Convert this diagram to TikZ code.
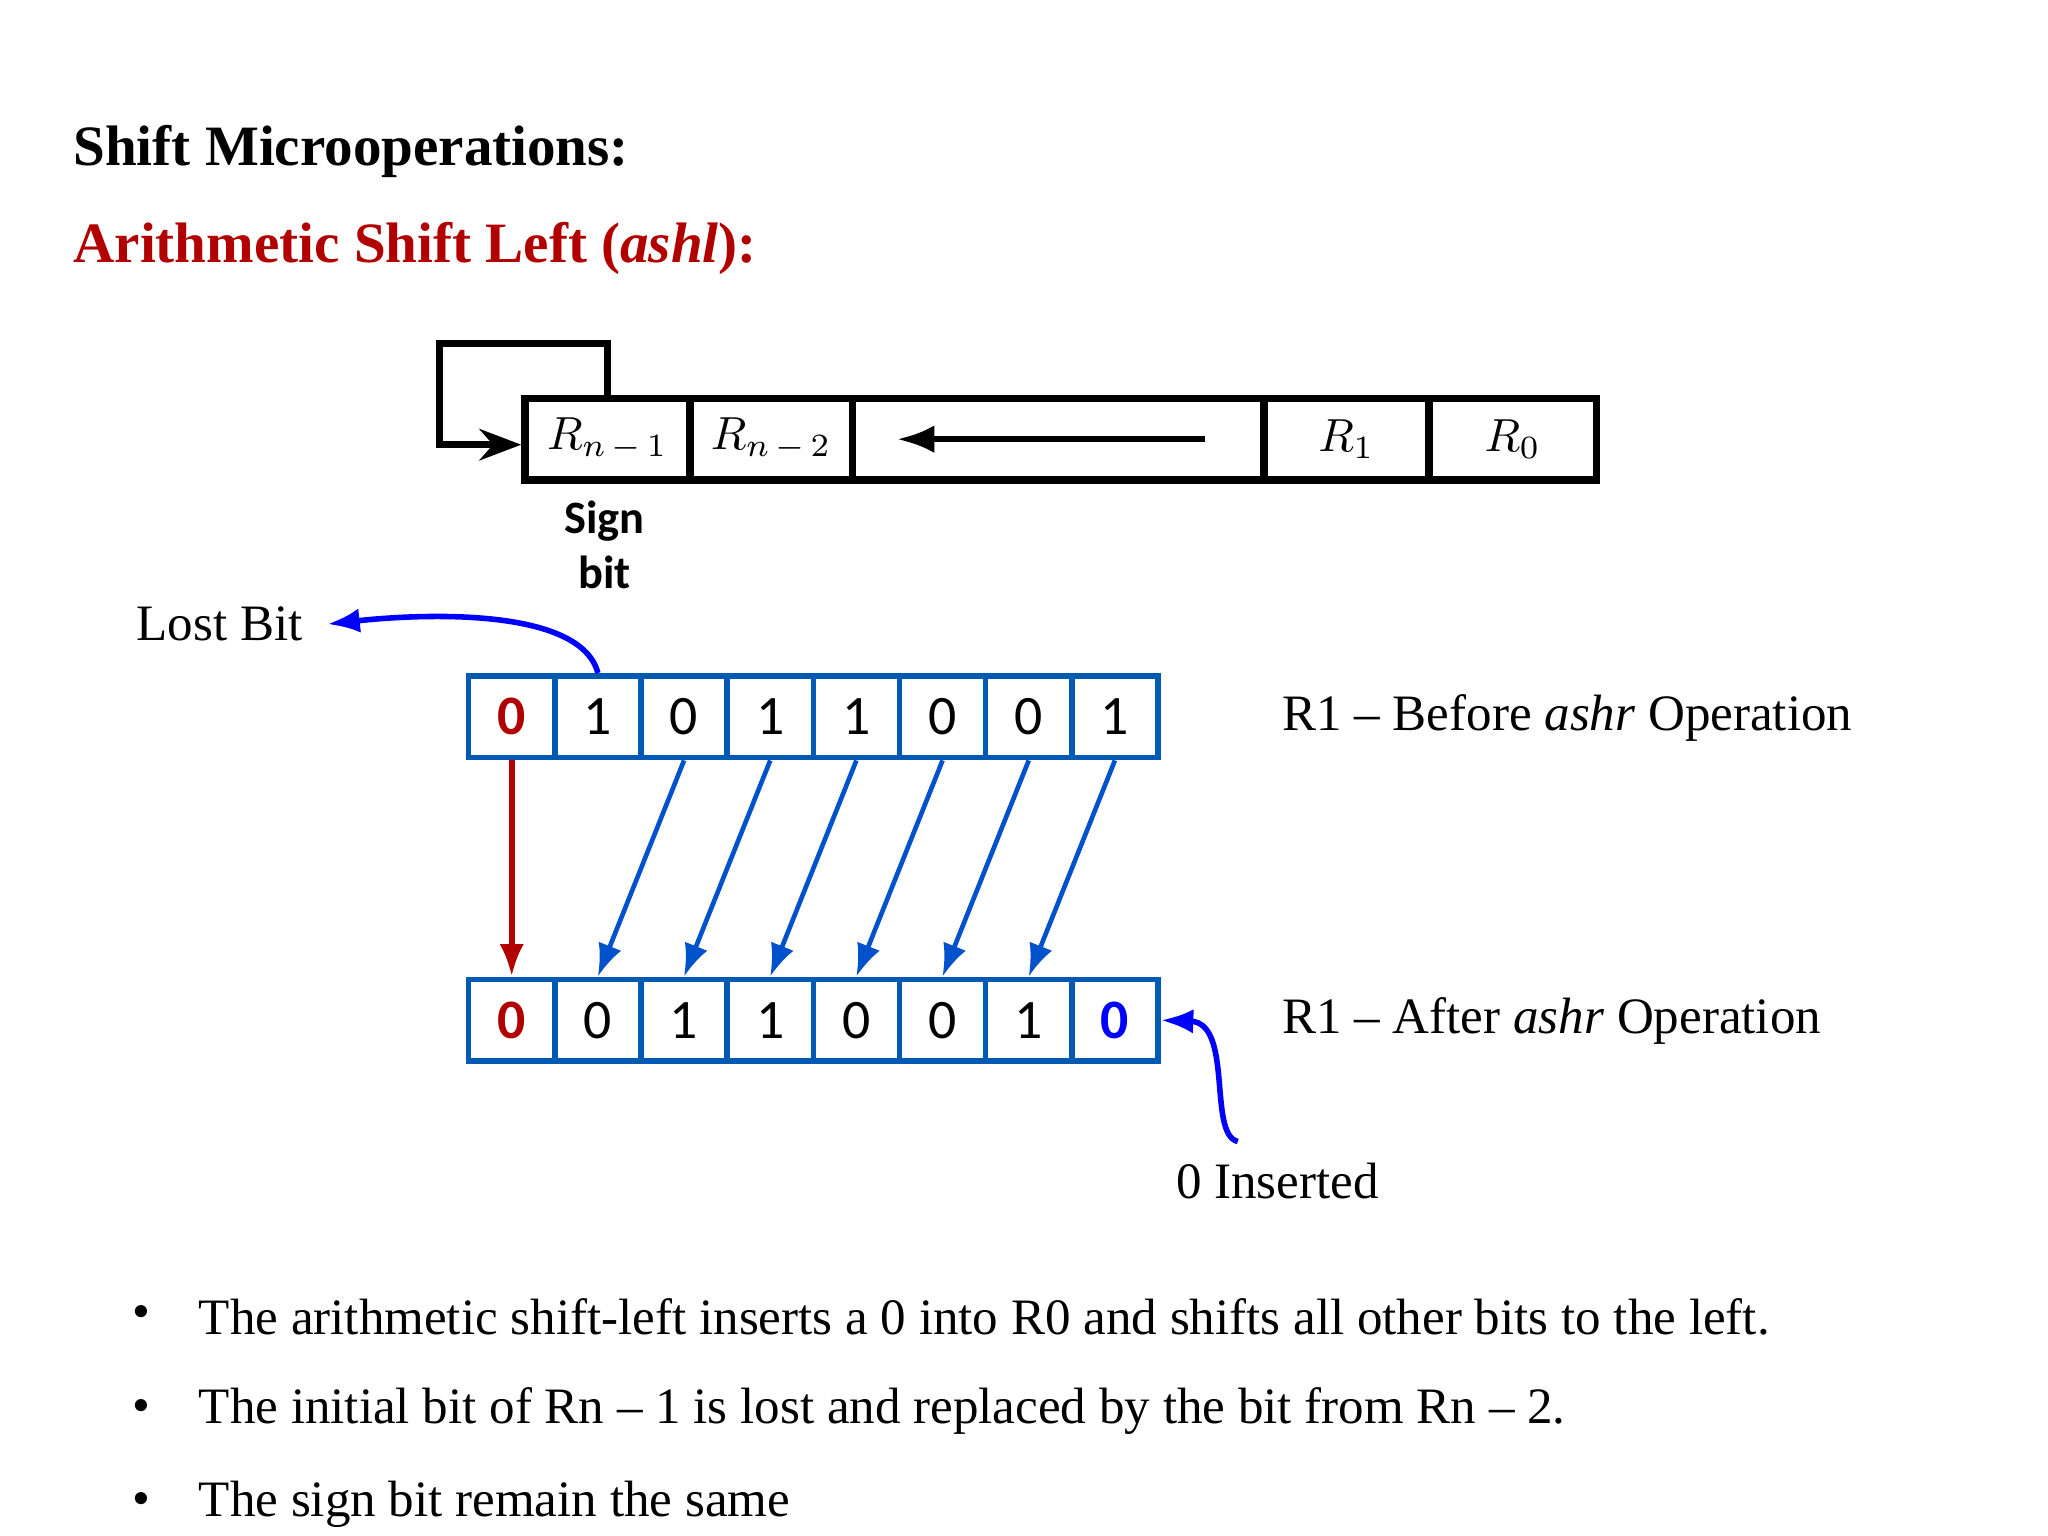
\documentclass[tikz,border=0pt]{standalone}
\usepackage{fontspec}
\setmainfont{Liberation Serif}
\newfontfamily\calfnt{Carlito}
\usetikzlibrary{arrows.meta}
\begin{document}
\begin{tikzpicture}[x=0.01cm,y=-0.01cm,
 reg/.style={draw,line width=1.6pt,minimum height=0.62cm,inner sep=0pt,anchor=north west},
 bit/.style={draw=blue!50!cyan!70!black,line width=1.2pt,minimum width=0.653cm,minimum height=0.62cm,inner sep=0pt,anchor=north west,font=\calfnt\fontsize{12}{14}\selectfont},
 barr/.style={-{Latex[length=7pt]},draw=blue!60!cyan!80!black,line width=1pt},
 txt/.style={font=\fontsize{11}{13}\selectfont,inner sep=0pt}]
\useasboundingbox (0,0) rectangle (1552,1164);
\node[anchor=west,inner sep=0pt,font=\bfseries\fontsize{12.3}{15}\selectfont] (t) at (55,115) {Shift Microoperations:};
\node[anchor=west,inner sep=0pt,font=\bfseries\fontsize{12.3}{15}\selectfont,text=red!70!black] (s) at (55,188) {Arithmetic Shift Left (\textit{ashl}):};
% top register
\node[reg,minimum width=1.25cm] (r1) at (395,299) {$R_{n\,-\,1}$};
\node[reg,minimum width=1.23cm] (r2) at (520,299) {$R_{n\,-\,2}$};
\node[reg,minimum width=3.12cm] (rm) at (643,299) {};
\node[reg,minimum width=1.25cm] (ra) at (955,299) {$R_1$};
\node[reg,minimum width=1.27cm] (rb) at (1080,299) {$R_0$};
\draw[-{Latex[length=8pt]},line width=1.3pt] ([xshift=-0.48cm]rm.east) -- ([xshift=0.37cm]rm.west);
\coordinate (c1) at (460,260); \coordinate (c2) at (333,260); \coordinate (c3) at (333,337);
\draw[line width=1.5pt,-{Stealth[length=9pt]}] (r1.north -| c1) -- (c1) -- (c2) -- (c3) -- (r1.west |- c3);
\node[font=\calfnt\bfseries\fontsize{10}{12}\selectfont,align=center] (sb) at (458,413) {Sign\\bit};
% bits
\foreach \b [count=\i from 0] in {0,1,0,1,1,0,0,1}{
 \node[bit] (a\i) at (353+65.3*\i,510) {\ifnum\i=0 \textcolor{red!70!black}{\bfseries\b}\else\b\fi};}
\foreach \b [count=\i from 0] in {0,0,1,1,0,0,1,0}{
 \node[bit] (b\i) at (353+65.3*\i,740) {\ifnum\i=0 \textcolor{red!70!black}{\bfseries\b}\else\ifnum\i=7 \textcolor{blue}{\bfseries\b}\else\b\fi\fi};}
\draw[-{Latex[length=7pt]},draw=red!70!black,line width=1.2pt] (a0.south) -- (b0.north);
\foreach \i [evaluate=\i as \j using int(\i-1)] in {2,...,7}{\draw[barr] (a\i.south) -- (b\j.north);}
\node[txt,anchor=east] (lb) at (230,473) {Lost Bit};
\draw[-{Latex[length=7pt]},blue,line width=1.2pt] (a1.north) .. controls (440,460) and (320,465) .. ([xshift=0.18cm]lb.east);
\node[txt] (zi) at (968,895) {0 Inserted};
\coordinate (zs) at (938,865);
\draw[-{Latex[length=7pt]},blue,line width=1.2pt] (zs) .. controls (915,860) and (935,775) .. (b7.east);
\node[txt,anchor=west] (l1) at (971,544) {R1 -- Before \textit{ashr} Operation};
\node[txt,anchor=west] (l2) at (971,774) {R1 -- After \textit{ashr} Operation};
% bullets
\foreach \y/\t [count=\k] in {998/{The arithmetic shift-left inserts a 0 into R0 and shifts all other bits to the left.},1069/{The initial bit of Rn -- 1 is lost and replaced by the bit from Rn -- 2.},1140/{The sign bit remain the same}}{
 \node[txt] (d\k) at (107,\y) {\textbullet};
 \node[txt,anchor=west] (e\k) at (150,\y) {\t};}
\end{tikzpicture}
\end{document}
